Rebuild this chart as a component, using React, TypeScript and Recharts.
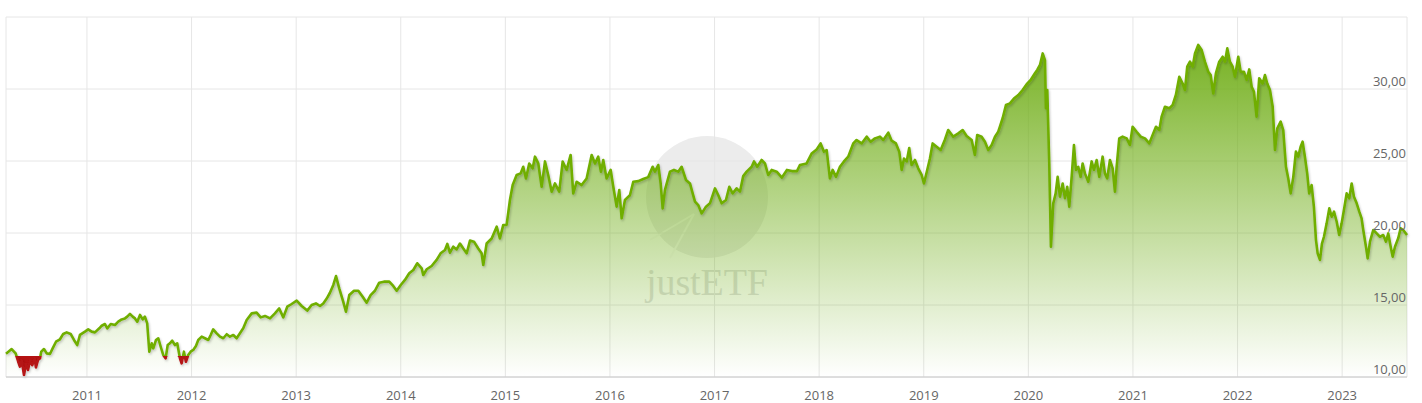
import React from "react";
import { ComposedChart, Area, Line, XAxis, YAxis, CartesianGrid } from "recharts";

// decimal-year dates, grouped by calendar year
const dates: number[] = [
  // 2010
  2010.226, 2010.28, 2010.318, 2010.343, 2010.359, 2010.376, 2010.398, 2010.417, 2010.436, 2010.455, 2010.477, 2010.5, 2010.512, 2010.532, 2010.551, 2010.563, 2010.589, 2010.615, 2010.646, 2010.672, 2010.704, 2010.742, 2010.773, 2010.806, 2010.844, 2010.876, 2010.907, 2010.933, 2010.981,
  // 2011
  2011.012, 2011.045, 2011.076, 2011.118, 2011.141, 2011.172, 2011.194, 2011.227, 2011.268, 2011.299, 2011.332, 2011.363, 2011.385, 2011.411, 2011.437, 2011.459, 2011.481, 2011.507, 2011.533, 2011.554, 2011.576, 2011.596, 2011.619, 2011.634, 2011.66, 2011.682, 2011.705, 2011.729, 2011.752, 2011.772, 2011.793, 2011.815, 2011.841, 2011.863, 2011.889, 2011.905, 2011.927, 2011.946, 2011.968, 2011.991,
  // 2012
  2012.016, 2012.042, 2012.064, 2012.097, 2012.128, 2012.16, 2012.183, 2012.207, 2012.24, 2012.272, 2012.303, 2012.336, 2012.367, 2012.399, 2012.431, 2012.494, 2012.527, 2012.575, 2012.622, 2012.661, 2012.702, 2012.75, 2012.797, 2012.838, 2012.877, 2012.915, 2012.957,
  // 2013
  2013.005, 2013.053, 2013.106, 2013.148, 2013.189, 2013.228, 2013.259, 2013.292, 2013.323, 2013.355, 2013.381, 2013.412, 2013.45, 2013.476, 2013.508, 2013.553, 2013.594, 2013.636, 2013.674, 2013.712, 2013.753, 2013.794, 2013.839, 2013.89, 2013.928, 2013.961,
  // 2014
  2014.0, 2014.04, 2014.081, 2014.12, 2014.158, 2014.2, 2014.215, 2014.248, 2014.295, 2014.343, 2014.381, 2014.423, 2014.445, 2014.47, 2014.502, 2014.534, 2014.566, 2014.598, 2014.63, 2014.662, 2014.7, 2014.741, 2014.773, 2014.789, 2014.821, 2014.869, 2014.917, 2014.948, 2014.98,
  // 2015
  2015.012, 2015.044, 2015.07, 2015.108, 2015.146, 2015.171, 2015.197, 2015.228, 2015.261, 2015.283, 2015.315, 2015.347, 2015.379, 2015.41, 2015.443, 2015.474, 2015.515, 2015.548, 2015.586, 2015.624, 2015.649, 2015.682, 2015.729, 2015.777, 2015.825, 2015.857, 2015.888, 2015.914, 2015.936, 2015.968,
  // 2016
  2016.007, 2016.032, 2016.064, 2016.089, 2016.112, 2016.143, 2016.191, 2016.223, 2016.271, 2016.318, 2016.366, 2016.408, 2016.43, 2016.462, 2016.485, 2016.504, 2016.526, 2016.574, 2016.612, 2016.653, 2016.685, 2016.727, 2016.765, 2016.791, 2016.813, 2016.844, 2016.877, 2016.918, 2016.956,
  // 2017
  2017.004, 2017.035, 2017.068, 2017.109, 2017.141, 2017.173, 2017.211, 2017.243, 2017.274, 2017.307, 2017.355, 2017.377, 2017.408, 2017.45, 2017.482, 2017.513, 2017.546, 2017.594, 2017.644, 2017.692, 2017.74, 2017.788, 2017.816, 2017.88, 2017.928, 2017.976,
  // 2018
  2018.014, 2018.046, 2018.072, 2018.103, 2018.129, 2018.161, 2018.199, 2018.237, 2018.278, 2018.326, 2018.358, 2018.406, 2018.454, 2018.492, 2018.533, 2018.581, 2018.613, 2018.661, 2018.693, 2018.734, 2018.766, 2018.789, 2018.811, 2018.837, 2018.861, 2018.884, 2018.916, 2018.947, 2018.98,
  // 2019
  2019.002, 2019.033, 2019.059, 2019.085, 2019.123, 2019.162, 2019.203, 2019.234, 2019.282, 2019.33, 2019.372, 2019.41, 2019.458, 2019.489, 2019.511, 2019.553, 2019.585, 2019.617, 2019.649, 2019.681, 2019.712, 2019.728, 2019.754, 2019.786, 2019.824, 2019.862, 2019.904, 2019.945, 2019.989,
  // 2020
  2020.022, 2020.063, 2020.085, 2020.111, 2020.137, 2020.159, 2020.168, 2020.181, 2020.2, 2020.216, 2020.238, 2020.261, 2020.28, 2020.302, 2020.328, 2020.35, 2020.372, 2020.391, 2020.414, 2020.436, 2020.455, 2020.477, 2020.5, 2020.519, 2020.541, 2020.573, 2020.605, 2020.627, 2020.653, 2020.678, 2020.71, 2020.732, 2020.754, 2020.78, 2020.806, 2020.828, 2020.844, 2020.869, 2020.901, 2020.94, 2020.971, 2020.997,
  // 2021
  2021.035, 2021.074, 2021.115, 2021.156, 2021.194, 2021.22, 2021.252, 2021.274, 2021.306, 2021.347, 2021.38, 2021.411, 2021.443, 2021.475, 2021.497, 2021.519, 2021.545, 2021.571, 2021.593, 2021.624, 2021.657, 2021.688, 2021.72, 2021.743, 2021.768, 2021.793, 2021.825, 2021.858, 2021.88, 2021.902, 2021.927, 2021.953, 2021.975,
  // 2022
  2022.007, 2022.03, 2022.061, 2022.087, 2022.112, 2022.135, 2022.157, 2022.182, 2022.207, 2022.24, 2022.262, 2022.284, 2022.31, 2022.336, 2022.358, 2022.38, 2022.412, 2022.437, 2022.463, 2022.485, 2022.508, 2022.533, 2022.558, 2022.58, 2022.603, 2022.622, 2022.644, 2022.666, 2022.685, 2022.708, 2022.73, 2022.75, 2022.766, 2022.788, 2022.807, 2022.826, 2022.852, 2022.877, 2022.9, 2022.922, 2022.948, 2022.972, 2022.995,
  // 2023
  2023.017, 2023.043, 2023.068, 2023.091, 2023.113, 2023.139, 2023.164, 2023.186, 2023.202, 2023.228, 2023.244, 2023.266, 2023.298, 2023.33, 2023.361, 2023.393, 2023.419, 2023.441, 2023.464, 2023.483, 2023.505, 2023.536, 2023.559, 2023.584, 2023.62,
];

const values: number[] = [
  // 2010
  11.62, 11.94, 11.64, 11.06, 10.72, 11.18, 10.14, 10.95, 10.49, 11.13, 10.83, 11.3, 10.67, 11.18, 11.3, 11.76, 11.94, 11.64, 11.6, 11.99, 12.45, 12.62, 12.99, 13.1, 12.99, 12.57, 12.22, 12.92, 13.15,
  // 2011
  13.31, 13.15, 13.1, 13.38, 13.56, 13.68, 13.38, 13.68, 13.61, 13.84, 14.0, 14.07, 14.19, 14.38, 14.19, 14.07, 13.84, 14.31, 14.0, 14.19, 13.72, 11.76, 12.34, 11.99, 12.57, 12.69, 12.1, 11.53, 11.3, 12.22, 12.34, 12.52, 12.22, 12.34, 11.3, 10.95, 11.76, 11.06, 11.53, 11.76,
  // 2012
  11.88, 12.15, 12.57, 12.8, 12.69, 12.57, 12.92, 13.31, 13.03, 12.8, 12.69, 12.97, 12.8, 12.92, 12.69, 13.38, 13.96, 14.42, 14.47, 14.14, 14.24, 14.07, 14.42, 14.76, 14.14, 14.88, 15.07,
  // 2013
  15.3, 14.93, 14.61, 15.0, 15.11, 14.93, 15.11, 15.45, 15.85, 16.39, 17.01, 16.16, 15.23, 14.53, 15.69, 15.99, 15.99, 15.57, 15.16, 15.69, 15.99, 16.55, 16.62, 16.62, 16.32, 15.99,
  // 2014
  16.39, 16.74, 17.2, 17.43, 17.9, 17.55, 17.08, 17.48, 17.71, 18.13, 18.59, 18.82, 19.24, 18.63, 19.05, 18.86, 19.27, 18.92, 18.59, 19.47, 19.4, 18.92, 18.59, 17.78, 19.27, 19.62, 20.44, 19.62, 20.56,
  // 2015
  20.56, 22.29, 23.33, 24.03, 24.14, 24.6, 23.79, 24.83, 24.49, 25.3, 24.83, 23.21, 24.97, 24.03, 22.87, 23.44, 22.87, 24.97, 24.38, 25.42, 22.75, 23.56, 23.33, 23.79, 25.42, 24.83, 25.3, 24.26, 25.07, 23.79,
  // 2016
  24.38, 23.21, 21.83, 22.99, 21.02, 22.29, 22.62, 23.56, 23.6, 23.75, 23.88, 24.6, 24.26, 24.72, 23.44, 21.71, 22.99, 24.26, 24.38, 24.26, 24.6, 23.68, 23.44, 22.75, 22.18, 21.94, 21.36, 21.83, 22.06,
  // 2017
  23.1, 22.64, 22.06, 22.29, 23.21, 22.75, 23.1, 22.87, 23.95, 24.26, 24.6, 24.97, 24.6, 25.07, 24.83, 24.03, 24.38, 24.26, 23.85, 24.38, 24.3, 24.3, 24.72, 24.83, 25.52, 25.8,
  // 2018
  26.22, 25.65, 25.76, 23.79, 24.38, 23.9, 24.6, 24.97, 25.3, 26.22, 26.46, 26.22, 26.69, 26.34, 26.57, 26.69, 26.46, 26.97, 26.41, 26.22, 25.65, 24.38, 25.17, 24.97, 25.9, 24.72, 25.07, 24.49, 24.03,
  // 2019
  23.44, 24.38, 25.17, 26.22, 25.99, 25.76, 26.5, 27.15, 26.69, 26.92, 27.15, 26.74, 26.46, 25.42, 26.81, 26.69, 26.34, 25.76, 26.11, 26.69, 27.03, 27.38, 27.97, 28.89, 29.0, 29.34, 29.58, 29.93, 30.38,
  // 2020
  30.63, 31.09, 31.32, 31.67, 32.47, 32.01, 28.66, 29.93, 24.83, 19.05, 22.06, 22.75, 23.9, 22.52, 23.44, 22.41, 23.21, 21.83, 23.9, 26.11, 24.38, 24.6, 23.9, 24.83, 24.14, 23.56, 24.97, 24.38, 25.07, 23.9, 25.3, 24.14, 23.79, 25.07, 24.49, 22.87, 24.6, 26.57, 26.69, 26.57, 26.11, 27.38,
  // 2021
  27.03, 26.69, 26.57, 26.22, 26.92, 27.38, 27.15, 28.08, 28.77, 28.66, 28.9, 29.6, 30.85, 30.38, 29.93, 31.55, 31.9, 31.55, 32.47, 33.06, 32.71, 31.9, 31.2, 30.97, 29.69, 31.09, 31.9, 32.24, 31.9, 32.82, 31.9, 31.55, 30.85,
  // 2022
  32.24, 31.2, 31.2, 30.63, 31.36, 30.16, 29.81, 28.08, 30.74, 30.38, 30.97, 30.38, 29.93, 28.77, 25.76, 27.27, 27.73, 27.15, 24.6, 23.79, 22.75, 23.9, 25.65, 25.3, 25.99, 26.34, 25.3, 24.14, 22.75, 23.33, 21.83, 19.51, 18.59, 18.13, 19.27, 19.74, 20.67, 21.71, 21.13, 21.48, 20.78, 19.86, 20.67,
  // 2023
  21.6, 22.75, 22.41, 23.44, 22.52, 22.06, 21.48, 21.02, 20.21, 19.05, 18.24, 19.4, 20.21, 19.97, 19.74, 19.86, 19.4, 19.97, 19.05, 18.36, 19.05, 19.63, 20.33, 20.21, 19.86,
];

const yearTicks: number[] = [2011, 2012, 2013, 2014, 2015, 2016, 2017, 2018, 2019, 2020, 2021, 2022, 2023];
const priceTicks: number[] = [10, 15, 20, 25, 30, 35];
const priceDomain: [number, number] = [10, 35];
const threshold = 11.45;

const X_START = dates[0];
const X_END = dates[dates.length - 1];

const data = dates.map((t, i) => ({
  t,
  v: values[i],
  neg: values[i] < threshold ? [values[i], threshold] : [threshold, threshold],
}));

const vMax = Math.max(...values);
const vMin = Math.min(...values);
const split = (vMax - threshold) / (vMax - vMin);

const GREEN = "#6fae05";
const RED = "#b51212";
const TEXT = "#666666";

const XTick = (props: any) => {
  const { x, y, payload } = props;
  if (!Number.isInteger(payload.value)) return <g />;
  return (
    <text x={x} y={y + 23} textAnchor="middle" fill={TEXT} fontSize={13} fontFamily='"Open Sans", sans-serif'>
      {payload.value}
    </text>
  );
};

const YTick = (props: any) => {
  const { x, y, payload } = props;
  if (payload.value === priceDomain[1]) return <g />;
  return (
    <text x={x} y={y - 3} textAnchor="end" fill={TEXT} fontSize={13} fontFamily='"Open Sans", sans-serif'>
      {payload.value.toFixed(2).replace(".", ",")}
    </text>
  );
};

const Watermark = () => (
  <svg width={1422} height={403} style={{ position: "absolute", left: 0, top: 0 }}>
    <circle cx={707} cy={197} r={61} fill="#ececec" />
    <line x1={694} y1={214} x2={650} y2={240} stroke="#fafafa" strokeWidth={2} />
    <line x1={694} y1={214} x2={670} y2={258} stroke="#fafafa" strokeWidth={2} />
    <text x={646} y={295} fontFamily='"Liberation Serif", serif' fontSize={38} fill="#dedede" textLength={122}>
      justETF
    </text>
  </svg>
);

export default function App() {
  return (
    <div style={{ position: "absolute", left: 0, top: 0, width: 1422, height: 403, background: "#fff" }}>
      <Watermark />
      <div style={{ position: "absolute", left: 0, top: 0 }}>
        <ComposedChart width={1422} height={403} data={data} margin={{ top: 17, right: 14, left: 6, bottom: 0 }}>
          <defs>
            <linearGradient id="fillGrad" x1="0" y1="0" x2="0" y2="1">
              <stop offset="0%" stopColor="#74b01e" stopOpacity={0.98} />
              <stop offset="100%" stopColor="#74b01e" stopOpacity={0.0} />
            </linearGradient>
            <linearGradient id="lineGrad" x1="0" y1="0" x2="0" y2="1">
              <stop offset={split} stopColor={GREEN} />
              <stop offset={split} stopColor={RED} />
            </linearGradient>
            <filter id="lineShadow" x="-5%" y="-5%" width="110%" height="120%">
              <feDropShadow dx="1" dy="1.5" stdDeviation="1" floodColor="#000" floodOpacity="0.22" />
            </filter>
          </defs>
          <CartesianGrid stroke="#e6e6e6" strokeWidth={1} />
          <XAxis
            dataKey="t"
            type="number"
            domain={[X_START, X_END]}
            ticks={[X_START, ...yearTicks, X_END]}
            interval={0}
            height={26}
            tickSize={0}
            tickMargin={0}
            tickLine={false}
            axisLine={{ stroke: "#c8c8c8" }}
            tick={<XTick />}
          />
          <YAxis
            orientation="right"
            width={1}
            domain={priceDomain}
            ticks={priceTicks}
            interval={0}
            tickSize={0}
            tickMargin={-1}
            axisLine={false}
            tickLine={false}
            tick={<YTick />}
          />
          <Area
            type="linear"
            dataKey="v"
            stroke="none"
            fill="url(#fillGrad)"
            fillOpacity={1}
            isAnimationActive={false}
            dot={false}
            activeDot={false}
          />
          <Area
            type="linear"
            dataKey="neg"
            stroke="none"
            fill={RED}
            fillOpacity={1}
            isAnimationActive={false}
            dot={false}
            activeDot={false}
          />
          <Line
            type="linear"
            dataKey="v"
            stroke="url(#lineGrad)"
            strokeWidth={2.6}
            strokeLinejoin="round"
            dot={false}
            activeDot={false}
            isAnimationActive={false}
            filter="url(#lineShadow)"
          />
        </ComposedChart>
      </div>
    </div>
  );
}
